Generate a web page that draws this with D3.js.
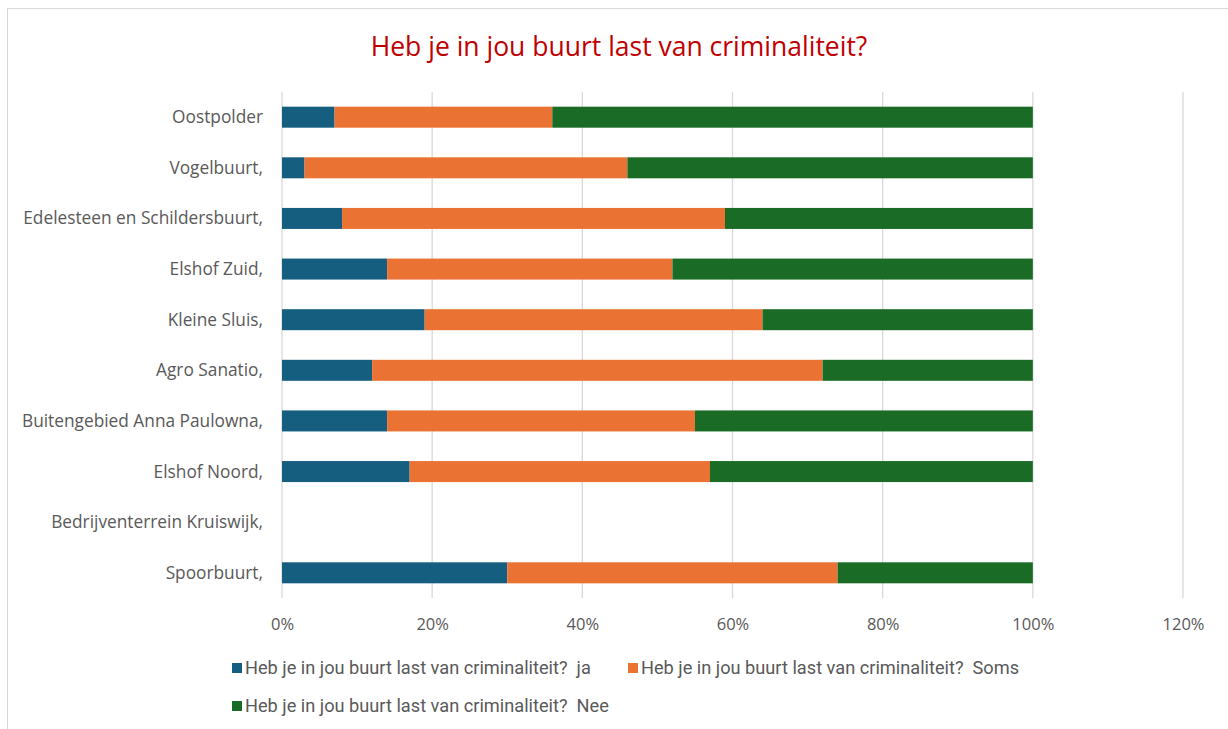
<!DOCTYPE html>
<html>
<head>
<meta charset="utf-8">
<script src="https://cdn.jsdelivr.net/npm/d3@7"></script>
<style>
  body { margin: 0; background: #fff; }
  svg { display: block; }
</style>
</head>
<body>
<div id="chart"></div>
<script>
// neighbourhoods, top to bottom
var buurten = ["Oostpolder", "Vogelbuurt,", "Edelesteen en Schildersbuurt,", "Elshof Zuid,",
  "Kleine Sluis,", "Agro Sanatio,", "Buitengebied Anna Paulowna,", "Elshof Noord,",
  "Bedrijventerrein Kruiswijk,", "Spoorbuurt,"];

// shares in %
var ja   = [7, 3, 8, 14, 19, 12, 14, 17, 0, 30];
var soms = [29, 43, 51, 38, 45, 60, 41, 40, 0, 44];
var nee  = [64, 54, 41, 48, 36, 28, 45, 43, 0, 26];

var ticks = [0, 20, 40, 60, 80, 100, 120];

var seriesNames = ["Heb je in jou buurt last van criminaliteit?  ja",
  "Heb je in jou buurt last van criminaliteit?  Soms",
  "Heb je in jou buurt last van criminaliteit?  Nee"];
var colors = ["#165e80", "#ea7233", "#1a6b25"];

var W = 1228, H = 729,
    margin = {top: 92, right: 45, bottom: 131, left: 282};

var svg = d3.select("#chart").append("svg")
    .attr("width", W)
    .attr("height", H);

// outer frame (runs off the right/bottom edges)
svg.append("rect")
    .attr("x", 7.5).attr("y", 8.5)
    .attr("width", W).attr("height", H)
    .attr("fill", "none")
    .attr("stroke", "#d9d9d9");

svg.append("text")
    .attr("x", 619).attr("y", 56)
    .attr("text-anchor", "middle")
    .attr("font-family", "Open Sans, sans-serif")
    .attr("font-size", 26.5)
    .attr("fill", "#c00000")
    .text("Heb je in jou buurt last van criminaliteit?");

var width = 1183 - margin.left,
    height = 598 - margin.top;

var g = svg.append("g").attr("transform", "translate(" + margin.left + "," + margin.top + ")");

var x = d3.scaleLinear().domain([0, 120]).range([0, width]);
var y = d3.scaleBand().domain(buurten).range([0, height]).paddingInner(0.585).paddingOuter(0.29);

// gridlines
g.append("g")
  .selectAll("line")
  .data(ticks)
  .enter().append("line")
    .attr("x1", function(d) { return x(d); })
    .attr("x2", function(d) { return x(d); })
    .attr("y1", 0)
    .attr("y2", height)
    .attr("stroke", "#d9d9d9")
    .attr("stroke-width", 1.3);

var rows = buurten.map(function(b, i) { return {buurt: b, ja: ja[i], soms: soms[i], nee: nee[i]}; });
var keys = ["ja", "soms", "nee"];
var stack = d3.stack().keys(keys)(rows);

g.append("g")
  .selectAll("g")
  .data(stack)
  .enter().append("g")
    .attr("fill", function(d, i) { return colors[i]; })
  .selectAll("rect")
  .data(function(d) { return d; })
  .enter().append("rect")
    .attr("x", function(d) { return x(d[0]); })
    .attr("y", function(d) { return y(d.data.buurt); })
    .attr("width", function(d) { return x(d[1]) - x(d[0]); })
    .attr("height", y.bandwidth());

// category labels
g.append("g")
  .selectAll("text")
  .data(buurten)
  .enter().append("text")
    .attr("x", -19)
    .attr("y", function(d) { return y(d) + y.bandwidth() / 2; })
    .attr("dy", "0.35em")
    .attr("text-anchor", "end")
    .attr("font-family", "Open Sans, sans-serif")
    .attr("font-size", 17.3)
    .attr("fill", "#595959")
    .text(function(d) { return d; });

// x tick labels
var xAxis = g.append("g")
    .attr("transform", "translate(0," + height + ")")
    .call(d3.axisBottom(x).tickValues(ticks).tickSize(0).tickPadding(20)
      .tickFormat(function(d) { return d + "%"; }));
xAxis.select(".domain").remove();
xAxis.selectAll("text")
    .attr("font-family", "Open Sans, sans-serif")
    .attr("font-size", 16.5)
    .attr("fill", "#595959");

// legend
var legendPos = [[232, 668], [628, 668], [232, 706]];
var legend = svg.append("g")
  .selectAll("g")
  .data(seriesNames)
  .enter().append("g")
    .attr("transform", function(d, i) { return "translate(" + legendPos[i][0] + "," + legendPos[i][1] + ")"; });

legend.append("rect")
    .attr("x", 0).attr("y", -5)
    .attr("width", 10).attr("height", 10)
    .attr("fill", function(d, i) { return colors[i]; });

legend.append("text")
    .attr("x", 13)
    .attr("dy", "0.35em")
    .attr("font-family", "Liberation Sans Narrow, Roboto, sans-serif")
    .attr("font-size", 18.2)
    .attr("fill", "#595959")
    .style("white-space", "pre")
    .text(function(d) { return d; });
</script>
</body>
</html>
